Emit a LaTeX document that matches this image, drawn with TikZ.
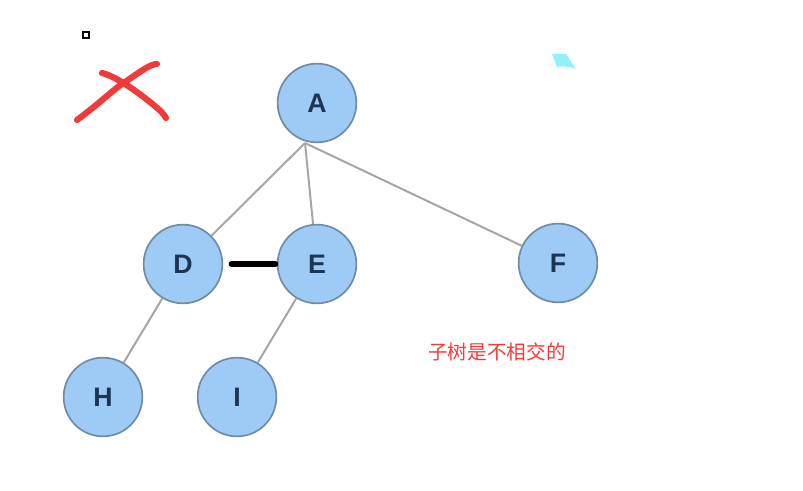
\documentclass[tikz,border=0pt]{standalone}
\usepackage{fontspec}
\setmainfont{Liberation Sans}
\newfontfamily\cjk{Noto Sans CJK SC}
\usepackage{xcolor}
\usepackage{tikz}
\usetikzlibrary{
  arrows.meta,
  positioning,
  calc,
}
\definecolor{nodeblue}{HTML}{9DCBF6}
\definecolor{nodeline}{HTML}{6E8CA6}
\definecolor{letterblue}{HTML}{1C3553}
\definecolor{edgegrey}{HTML}{A5A5A5}
\definecolor{markred}{HTML}{F23A3A}
\definecolor{cyanmark}{HTML}{92F2F7}

\begin{document}
\begin{tikzpicture}[
    x=0.025cm, y=-0.025cm,
    treenode/.style={circle, draw=nodeline, fill=nodeblue, line width=1.2pt,
                     minimum size=56pt, inner sep=0pt,
                     font=\bfseries\fontsize{19}{19}\selectfont, text=letterblue},
    treeedge/.style={draw=edgegrey, line width=1.4pt},
  ]
  \useasboundingbox (0,0) rectangle (803,491);

  \node[treenode] (A) at (317,103) {A};
  \node[treenode] (D) at (183,264) {D};
  \node[treenode] (E) at (317,264) {E};
  \node[treenode] (F) at (558,263) {F};
  \node[treenode] (H) at (103,397) {H};
  \node[treenode] (I) at (237,397) {I};
  \coordinate (Aroot) at (305,143);

  \draw[treeedge] (Aroot) -- (D);
  \draw[treeedge] (Aroot) -- (E);
  \draw[treeedge] (Aroot) -- (F);
  \draw[treeedge] (D) -- (H);
  \draw[treeedge] (E) -- (I);

  % crossed link between siblings
  \draw[line width=3.6pt, line cap=round] ($(D.east)+(8,0)$) -- ($(E.west)+(-1,0)$);

  % red cross mark
  \draw[markred, line width=4.4pt, line cap=round]
    (77,120) .. controls (100,103) and (115,88) .. (125,82)
             .. controls (140,72) and (150,64) .. (157,64);
  \draw[markred, line width=4.4pt, line cap=round]
    (102,73) .. controls (115,76) and (135,90) .. (150,102)
             .. controls (160,110) and (164,114) .. (166,118);

  \draw[line width=0.8pt] (83,32) rectangle (89,38);
  \fill[cyanmark] (552,54) -- (566,54) -- (576,69) .. controls (568,66) and (562,66) .. (557,67) -- cycle;

  \node[text=markred, font=\cjk\fontsize{14}{14}\selectfont] (note) at (497,352) {子树是不相交的};
\end{tikzpicture}
\end{document}
